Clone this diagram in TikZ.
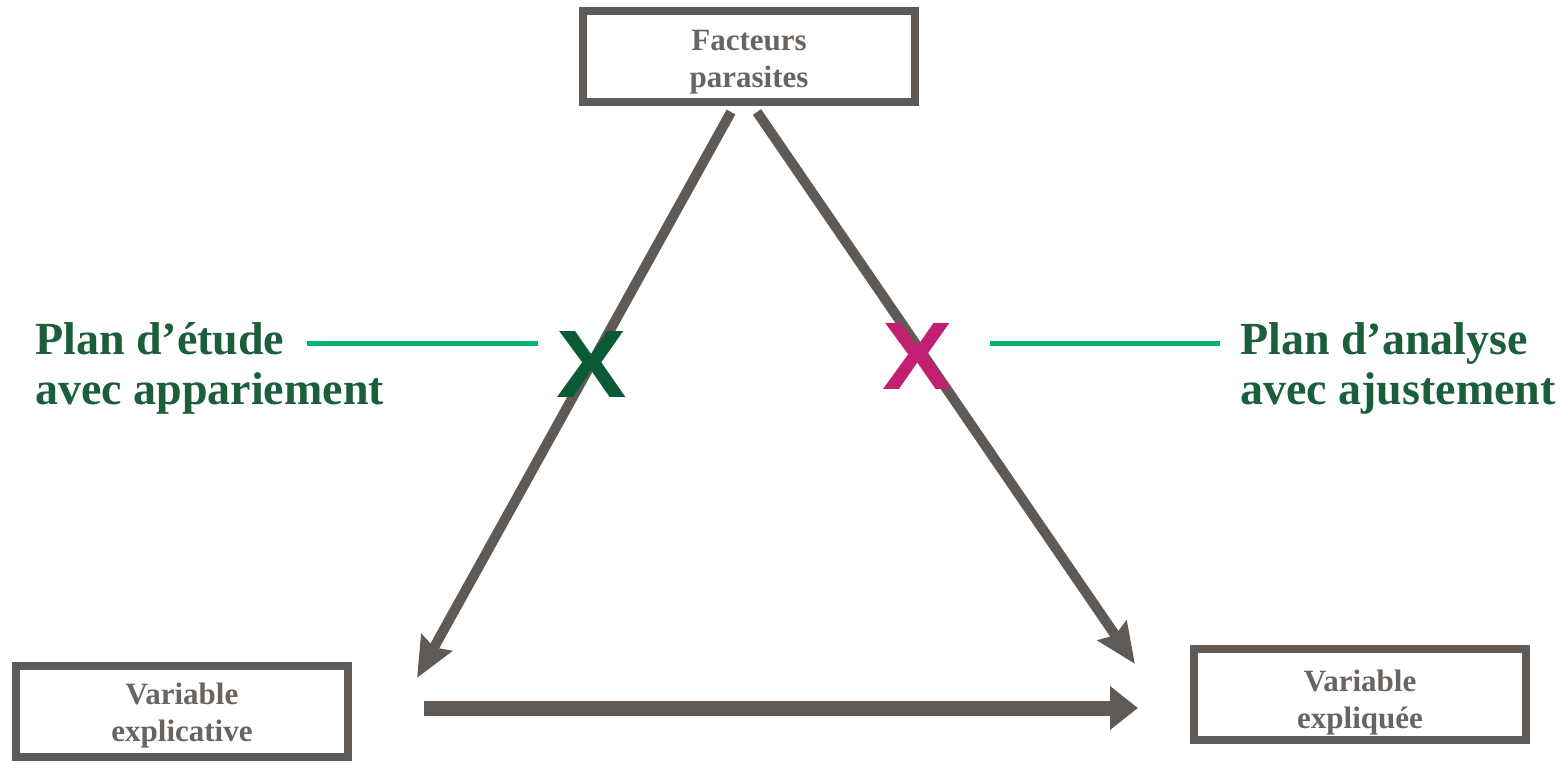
\documentclass[tikz,border=0pt]{standalone}
\usepackage{fontspec}
\setmainfont{Liberation Serif}
\newfontfamily\xfont{Liberation Sans}
\usetikzlibrary{arrows.meta}
\definecolor{boxgray}{HTML}{5F5A56}
\definecolor{txtgray}{HTML}{6A6460}
\definecolor{dgreen}{HTML}{1B5E3B}
\definecolor{lgreen}{HTML}{00B371}
\definecolor{xgreen}{HTML}{0B5A36}
\definecolor{xpink}{HTML}{C0206F}
\tikzset{
  varbox/.style={draw=boxgray, line width=8pt, fill=white, minimum width=332pt, minimum height=91pt, inner sep=0pt},
  boxlabel/.style={text=txtgray, font=\fontsize{31}{37}\selectfont\bfseries, align=center, inner sep=0pt},
  bigarrow/.style={draw=boxgray, line width=10pt, -{Stealth[length=40pt, width=34pt, inset=5pt]}},
  flatarrow/.style={draw=boxgray, line width=15pt, -{Triangle[length=28pt, width=42pt]}},
  plan/.style={text=dgreen, font=\fontsize{46}{50}\selectfont\bfseries, align=left, inner sep=0pt},
  leader/.style={draw=lgreen, line width=5pt},
  cross/.style={font=\xfont\fontsize{96}{96}\selectfont\bfseries, inner sep=0pt, xscale=1.1}
}
\begin{document}
\begin{tikzpicture}[x=1pt,y=-1pt]
\useasboundingbox (0,0) rectangle (1565,763);
\node[varbox] (fp) at (749,56.5) {};
\node[varbox] (ve) at (182,711.5) {};
\node[varbox] (vy) at (1360,694) {};
\node[boxlabel] (fpt) at ([yshift=-6pt]fp.center) {Facteurs\\parasites};
\node[boxlabel] (vet) at ([yshift=-4pt]ve.center) {Variable\\explicative};
\node[boxlabel] (vyt) at ([yshift=-9pt]vy.center) {Variable\\expliquée};
\coordinate (lt) at (731,112);
\coordinate (lb) at (417,678);
\coordinate (rt) at (757,112);
\coordinate (rb) at (1135,664);
\coordinate (hs) at (424,708);
\coordinate (he) at (1138,708);
\draw[bigarrow] (lt) -- (lb);
\draw[bigarrow] (rt) -- (rb);
\draw[flatarrow] (hs) -- (he);
\coordinate (gl1) at (307,343);
\coordinate (gl2) at (538,343);
\coordinate (gr1) at (990,343);
\coordinate (gr2) at (1220,343);
\draw[leader] (gl1) -- (gl2);
\draw[leader] (gr1) -- (gr2);
\node[cross, text=xgreen] (xl) at (592,364) {X};
\node[cross, text=xpink] (xr) at (918,356) {X};
\node[plan, anchor=west] (pl) at (35,368) {Plan d’étude\\avec appariement};
\node[plan, anchor=west] (pr) at (1240,368) {Plan d’analyse\\avec ajustement};
\end{tikzpicture}
\end{document}
